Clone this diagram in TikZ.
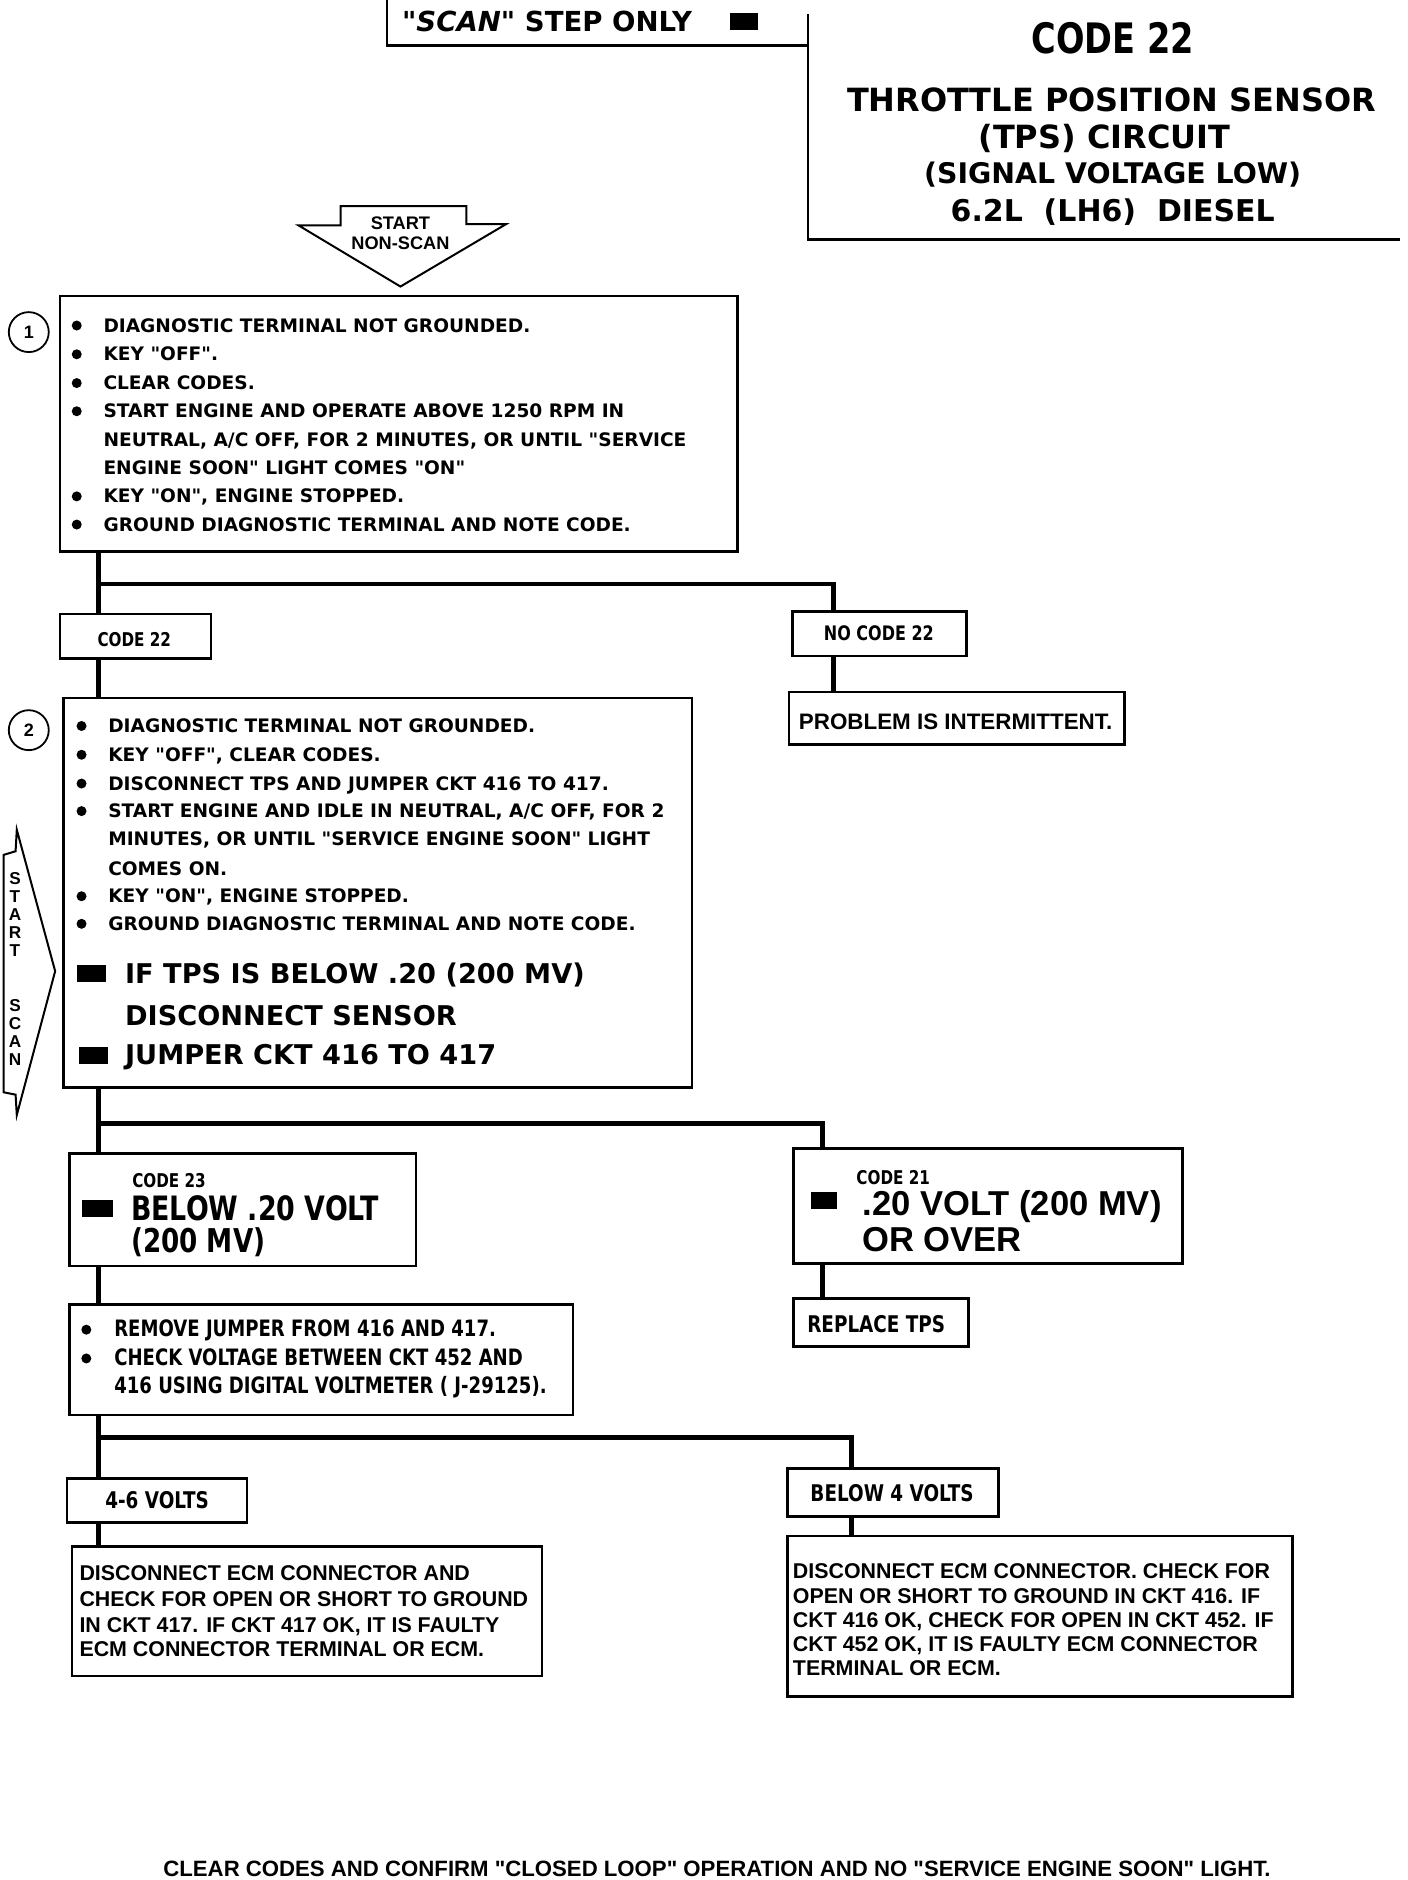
\documentclass[tikz,border=0pt]{standalone}
\usepackage{fontspec}
\usetikzlibrary{fit}
\newfontfamily\fdjv{DejaVu Sans}
\newfontfamily\fdjvc{DejaVu Sans}[FakeStretch=0.8]
\newfontfamily\flib{Liberation Sans}
\newcommand\setfs[1]{\fontsize{#1}{#1}\selectfont}
\tikzset{
  box/.style={draw, line width=1.3pt, inner sep=0pt},
  conn/.style={line width=2.4pt},
  tx/.style={inner sep=0pt, anchor=base west},
  txc/.style={inner sep=0pt, anchor=base},
  bul/.style={circle, fill, inner sep=0pt, minimum size=5pt},
  bodyf/.style={font=\fdjv\bfseries\setfs{9.3}},
  bigf/.style={font=\fdjv\bfseries\setfs{13.6}},
  condf/.style={font=\fdjvc\bfseries\setfs{11.3}},
  helvf/.style={font=\flib\bfseries\setfs{10.7}},
  smallf/.style={font=\fdjvc\bfseries\setfs{9.5}},
  labf/.style={font=\fdjvc\bfseries\setfs{11.5}},
  arrowline/.style={line width=1pt, line join=miter},
  scanl/.style={inner sep=0pt, anchor=base, font=\flib\bfseries\setfs{8.6}},
}
\begin{document}
\begin{tikzpicture}[x=0.6pt,y=-0.6pt]
\useasboundingbox (0,0) rectangle (1174,1568);
\fill[white] (0,0) rectangle (1174,1568);

% ---------- header ----------
\draw[line width=1.1pt] (323,0) -- (323,38) -- (674,38);
\node[tx, font=\fdjv\bfseries\setfs{13.8}] (tscan) at (335,26) {{\itshape"SCAN"} STEP ONLY};
\fill (609,11) rectangle (632,25);
\draw[line width=1.3pt] (674,12) -- (674,200) -- (1168,200);
\node[txc, font=\fdjvc\bfseries\setfs{21}] (tcode) at (928,45) {CODE 22};
\node[txc, font=\fdjv\bfseries\setfs{16}] (tthr) at (927,93) {THROTTLE POSITION SENSOR};
\node[txc, font=\fdjv\bfseries\setfs{16}] (ttps) at (921,124) {(TPS) CIRCUIT};
\node[txc, font=\fdjv\bfseries\setfs{14.2}] (tsig) at (928,153) {(SIGNAL VOLTAGE LOW)};
\node[txc, font=\fdjv\bfseries\setfs{15}] (tdie) at (928,185) {6.2L\ \ (LH6)\ \ DIESEL};

% ---------- start non-scan arrow ----------
\draw[arrowline] (284,172) -- (389,172) -- (389,187) -- (422,187) -- (334,239) -- (249,188) -- (284,188) -- cycle;
\node[txc, font=\flib\bfseries\setfs{9.1}] (tst1) at (334,191.5) {START};
\node[txc, font=\flib\bfseries\setfs{9.1}] (tst2) at (334,208.5) {NON-SCAN};

% ---------- start scan arrow ----------
\draw[arrowline] (14,692) -- (46,810) -- (14,930) -- (13,913) -- (3,911) -- (3,713) -- (13,710) -- cycle;
\node[scanl] (ss1) at (12.5,738) {S};
\node[scanl] (ss2) at (12.5,753) {T};
\node[scanl] (ss3) at (12.5,768) {A};
\node[scanl] (ss4) at (12.5,783) {R};
\node[scanl] (ss5) at (12.5,798) {T};
\node[scanl] (ss6) at (12.5,844) {S};
\node[scanl] (ss7) at (12.5,859) {C};
\node[scanl] (ss8) at (12.5,874) {A};
\node[scanl] (ss9) at (12.5,889) {N};

% ---------- step numbers ----------
\node[circle, draw, line width=0.9pt, minimum size=20pt, inner sep=0pt, font=\flib\bfseries\setfs{9}] (n1) at (24,277) {1};
\node[circle, draw, line width=0.9pt, minimum size=20pt, inner sep=0pt, font=\flib\bfseries\setfs{9}] (n2) at (24,609) {2};

% ---------- boxes ----------
\node[box, fit={(50,247) (615,460)}] (b1) {};
\node[box, fit={(50,512) (176,549)}] (cd22) {};
\node[box, fit={(661,510) (806,547)}] (nc22) {};
\node[box, fit={(658,577) (938,621)}] (prob) {};
\node[box, fit={(53,582) (577,907)}] (b2) {};
\node[box, fit={(58,962) (347,1056)}] (c23) {};
\node[box, fit={(662,958) (986,1054)}] (c21) {};
\node[box, fit={(662,1083) (808,1123)}] (rtps) {};
\node[box, fit={(58,1088) (478,1180)}] (b3) {};
\node[box, fit={(56,1233) (206,1270)}] (v46) {};
\node[box, fit={(657,1225) (833,1265)}] (bv4) {};
\node[box, fit={(60,1290) (452,1398)}] (b4) {};
\node[box, fit={(657,1281) (1078,1415)}] (b5) {};

% ---------- connectors ----------
\coordinate (s1) at (82,487);  \coordinate (s1r) at (695,487);
\coordinate (s2) at (82,937);  \coordinate (s2r) at (686,937);
\coordinate (s3) at (82,1199); \coordinate (s3r) at (710,1199);
\draw[conn] (b1.south -| s1) -- (cd22.north -| s1);
\draw[conn] (s1) -- (s1r) -- (nc22.north -| s1r);
\draw[conn] (cd22.south -| s1) -- (b2.north -| s1);
\draw[conn] (nc22.south -| s1r) -- (prob.north -| s1r);
\draw[conn] (b2.south -| s2) -- (c23.north -| s2);
\draw[conn] (s2) -- (s2r) -- (c21.north -| s2r);
\draw[conn] (c21.south -| s2r) -- (rtps.north -| s2r);
\draw[conn] (c23.south -| s2) -- (b3.north -| s2);
\draw[conn] (b3.south -| s3) -- (v46.north -| s3);
\draw[conn] (s3) -- (s3r) -- (bv4.north -| s3r);
\draw[conn] (v46.south -| s3) -- (b4.north -| s3);
\draw[conn] (bv4.south -| s3r) -- (b5.north -| s3r);

% ---------- box 1 ----------
\foreach \yy in {277,301,325,348.5,419.5,443} \node[bul] at (64,\yy-5.5) {};
\node[tx, bodyf] (a1) at (86,277) {DIAGNOSTIC TERMINAL NOT GROUNDED.};
\node[tx, bodyf] (a2) at (86,301) {KEY "OFF".};
\node[tx, bodyf] (a3) at (86,325) {CLEAR CODES.};
\node[tx, bodyf] (a4) at (86,348.5) {START ENGINE AND OPERATE ABOVE 1250 RPM IN};
\node[tx, bodyf] (a5) at (86,372) {NEUTRAL, A/C OFF, FOR 2 MINUTES, OR UNTIL "SERVICE};
\node[tx, bodyf] (a6) at (86,396) {ENGINE SOON" LIGHT COMES "ON"};
\node[tx, bodyf] (a7) at (86,419.5) {KEY "ON", ENGINE STOPPED.};
\node[tx, bodyf] (a8) at (86,443) {GROUND DIAGNOSTIC TERMINAL AND NOTE CODE.};

% ---------- small labels ----------
\node[txc, smallf] (tcd22) at (112,539) {CODE 22};
\node[txc, font=\fdjvc\bfseries\setfs{10}] (tnc22) at (733,534) {NO CODE 22};
\node[tx, font=\flib\bfseries\setfs{11.2}] (tprob) at (666,608.5) {PROBLEM IS INTERMITTENT.};

% ---------- box 2 ----------
\foreach \yy in {611,635,659,682,753,776} \node[bul] at (68,\yy-5.5) {};
\node[tx, bodyf] (c1) at (90,611) {DIAGNOSTIC TERMINAL NOT GROUNDED.};
\node[tx, bodyf] (c2) at (90,635) {KEY "OFF", CLEAR CODES.};
\node[tx, bodyf] (c3) at (90,659) {DISCONNECT TPS AND JUMPER CKT 416 TO 417.};
\node[tx, bodyf] (c4) at (90,682) {START ENGINE AND IDLE IN NEUTRAL, A/C OFF, FOR 2};
\node[tx, bodyf] (c5) at (90,705) {MINUTES, OR UNTIL "SERVICE ENGINE SOON" LIGHT};
\node[tx, bodyf] (c6) at (90,730) {COMES ON.};
\node[tx, bodyf] (c7) at (90,753) {KEY "ON", ENGINE STOPPED.};
\node[tx, bodyf] (c8) at (90,776) {GROUND DIAGNOSTIC TERMINAL AND NOTE CODE.};
\fill (64,805) rectangle (88,819);
\node[tx, bigf] (c9) at (104,820) {IF TPS IS BELOW .20 (200 MV)};
\node[tx, bigf] (c10) at (104,855) {DISCONNECT SENSOR};
\fill (66,873) rectangle (90,887);
\node[tx, bigf] (c11) at (104,888) {JUMPER CKT 416 TO 417};

% ---------- code 23 / code 21 ----------
\node[tx, smallf] (d1) at (110,990.5) {CODE 23};
\fill (68,1001) rectangle (94,1015);
\node[tx, font=\fdjvc\bfseries\setfs{16.8}] (d2) at (109,1018) {BELOW .20 VOLT};
\node[tx, font=\fdjvc\bfseries\setfs{16.4}] (d3) at (109,1045) {(200 MV)};
\node[tx, smallf] (e1) at (714,987.5) {CODE 21};
\fill (676,994) rectangle (698,1008);
\node[tx, font=\flib\bfseries\setfs{17.3}] (e2) at (719,1014) {.20 VOLT (200 MV)};
\node[tx, font=\flib\bfseries\setfs{17.3}] (e3) at (719,1044) {OR OVER};
\node[tx, labf] (trt) at (673,1111) {REPLACE TPS};

% ---------- box 3 ----------
\foreach \yy in {1115,1139} \node[bul] at (72,\yy-6) {};
\node[tx, condf] (f1) at (95,1115) {REMOVE JUMPER FROM 416 AND 417.};
\node[tx, condf] (f2) at (95,1139) {CHECK VOLTAGE BETWEEN CKT 452 AND};
\node[tx, condf] (f3) at (95,1162) {416 USING DIGITAL VOLTMETER ( J-29125).};

% ---------- voltage labels ----------
\node[txc, labf] (tv46) at (131,1258.5) {4-6 VOLTS};
\node[txc, labf] (tbv4) at (744,1252) {BELOW 4 VOLTS};

% ---------- box 4 ----------
\node[tx, helvf] (g1) at (66,1318.5) {DISCONNECT ECM CONNECTOR AND};
\node[tx, helvf] (g2) at (66,1339.5) {CHECK FOR OPEN OR SHORT TO GROUND};
\node[tx, helvf] (g3) at (66,1361.5) {IN CKT 417. IF CKT 417 OK, IT IS FAULTY};
\node[tx, helvf] (g4) at (66,1381.5) {ECM CONNECTOR TERMINAL OR ECM.};

% ---------- box 5 ----------
\node[tx, helvf] (h1) at (661,1316.5) {DISCONNECT ECM CONNECTOR. CHECK FOR};
\node[tx, helvf] (h2) at (661,1337) {OPEN OR SHORT TO GROUND IN CKT 416. IF};
\node[tx, helvf] (h3) at (661,1357.5) {CKT 416 OK, CHECK FOR OPEN IN CKT 452. IF};
\node[tx, helvf] (h4) at (661,1377.5) {CKT 452 OK, IT IS FAULTY ECM CONNECTOR};
\node[tx, helvf] (h5) at (661,1397.5) {TERMINAL OR ECM.};

% ---------- footer ----------
\node[txc, font=\flib\bfseries\setfs{11.1}] (foot) at (598,1565) {CLEAR CODES AND CONFIRM "CLOSED LOOP" OPERATION AND NO "SERVICE ENGINE SOON" LIGHT.};
\end{tikzpicture}
\end{document}
